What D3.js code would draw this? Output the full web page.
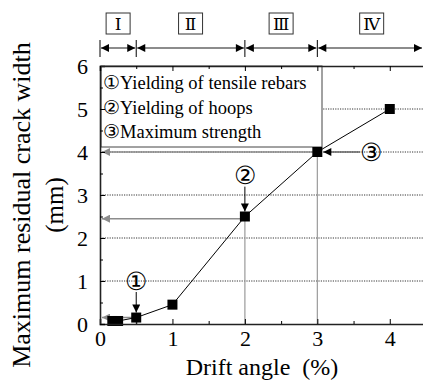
<!DOCTYPE html>
<html>
<head>
<meta charset="utf-8">
<script src="https://cdn.jsdelivr.net/npm/d3@7"></script>
<style>
body { margin: 0; background: #fff; }
</style>
</head>
<body>
<div id="chart"></div>
<script>
// data
var drift = [0.17, 0.25, 0.5, 1, 2, 3, 4];
var crack = [0.07, 0.07, 0.15, 0.45, 2.5, 4, 5];
var xTicks = [0, 1, 2, 3, 4];
var yTicks = [0, 1, 2, 3, 4, 5, 6];
var gridY = [1, 2, 3, 4, 5];
var stageBounds = [0, 0.5, 2, 3, 4.5];
var stageLabels = ['\u2160', '\u2161', '\u2162', '\u2163'];
var legendItems = ['\u2460Yielding of tensile rebars', '\u2461Yielding of hoops', '\u2462Maximum strength'];
var eventX = [0.5, 2, 3];
var eventY = [0.15, 2.45, 4];
var eventMarks = ['\u2460', '\u2461', '\u2462'];
var markX = [0.5, 2, 3.74];
var markY = [1, 3.45, 4];

var serif = '"Liberation Serif", "Times New Roman", Times, "DejaVu Serif", serif';

var svg = d3.select('#chart')
            .append('svg')
            .attr('width', 423)
            .attr('height', 380);

var x = d3.scaleLinear().domain([0, 4.5]).range([100, 426]);
var y = d3.scaleLinear().domain([0, 6]).range([324, 66]);

var defs = svg.append('defs');
function arrowHead(id, color) {
  defs.append('marker')
      .attr('id', id)
      .attr('viewBox', '0 0 10 10')
      .attr('refX', 10).attr('refY', 5)
      .attr('markerWidth', 9).attr('markerHeight', 8)
      .attr('markerUnits', 'userSpaceOnUse')
      .attr('orient', 'auto-start-reverse')
      .append('path')
      .attr('d', 'M0,0L10,5L0,10Z')
      .attr('fill', color);
}
arrowHead('headBlack', '#000');
arrowHead('headGray', '#8c8c8c');

// dotted grid lines
svg.selectAll('.grid').data(gridY).enter()
   .append('line')
   .attr('x1', x(0)).attr('x2', 423)
   .attr('y1', function(d){ return y(d); })
   .attr('y2', function(d){ return y(d); })
   .attr('stroke', '#000').attr('stroke-width', 0.8)
   .attr('stroke-dasharray', '1.2,1.2');

// grey reference lines (down to x axis, left to y axis)
for (var i = 0; i < eventX.length; i++) {
  svg.append('line')
     .attr('x1', x(eventX[i])).attr('x2', x(eventX[i]))
     .attr('y1', y(eventY[i])).attr('y2', y(0))
     .attr('stroke', '#9a9a9a').attr('stroke-width', 1.2);
  svg.append('line')
     .attr('x1', x(eventX[i])).attr('x2', x(0) + 2)
     .attr('y1', y(eventY[i])).attr('y2', y(eventY[i]))
     .attr('stroke', '#8c8c8c').attr('stroke-width', 1.5)
     .attr('marker-end', 'url(#headGray)');
}

// legend box
var lg = svg.append('g');
lg.append('rect')
  .attr('x', 101).attr('y', 66)
  .attr('width', 221).attr('height', 81)
  .attr('fill', '#fff').attr('stroke', '#444').attr('stroke-width', 1);
lg.selectAll('text').data(legendItems).enter()
  .append('text')
  .attr('x', 103)
  .attr('y', function(d, i){ return 89 + i * 24.5; })
  .style('font-size', '18.5px')
  .text(function(d){ return d; });

// data line + markers
var line = d3.line()
             .x(function(d){ return x(d[0]); })
             .y(function(d){ return y(d[1]); });
var pts = d3.zip(drift, crack);
svg.append('path')
   .datum(pts)
   .attr('d', line)
   .attr('fill', 'none').attr('stroke', '#000').attr('stroke-width', 1);
svg.selectAll('.pt').data(pts).enter()
   .append('rect')
   .attr('x', function(d){ return x(d[0]) - 5; })
   .attr('y', function(d){ return y(d[1]) - 5; })
   .attr('width', 10).attr('height', 10)
   .attr('fill', '#000');

// axes
var axB = svg.append('g').attr('transform', 'translate(0,' + y(0) + ')');
axB.call(d3.axisBottom(x).tickValues(xTicks).tickSize(-5).tickPadding(6).tickFormat(d3.format('d')));
axB.append('g').call(d3.axisBottom(x).tickValues([0.5, 1.5, 2.5, 3.5]).tickSize(-3).tickFormat(''));
var axL = svg.append('g').attr('transform', 'translate(' + x(0) + ',0)');
axL.call(d3.axisLeft(y).tickValues(yTicks).tickSize(-5).tickPadding(12).tickFormat(d3.format('d')));
axL.append('g').call(d3.axisLeft(y).tickValues([0.5, 1.5, 2.5, 3.5, 4.5, 5.5]).tickSize(-3).tickFormat(''));
var axT = svg.append('g').attr('transform', 'translate(0,' + y(6) + ')');
axT.call(d3.axisTop(x).tickValues(xTicks).tickSize(-5).tickFormat(''));
axT.append('g').call(d3.axisTop(x).tickValues([0.5, 1.5, 2.5, 3.5]).tickSize(-3).tickFormat(''));

svg.selectAll('.domain').attr('stroke', '#222').attr('stroke-width', 1.6);
svg.selectAll('g g .domain').attr('stroke', 'none');
svg.selectAll('.tick line').attr('stroke', '#000');
svg.selectAll('.tick text').style('font-size', '22px');

// event marks and arrows
for (var i = 0; i < eventMarks.length; i++) {
  svg.append('text')
     .attr('x', x(markX[i])).attr('y', y(markY[i]))
     .attr('text-anchor', 'middle').attr('dy', '0.35em')
     .style('font-size', '25px')
     .text(eventMarks[i]);
}
svg.append('line')
   .attr('x1', x(0.5)).attr('x2', x(0.5))
   .attr('y1', y(1) + 11).attr('y2', y(0.15) - 5)
   .attr('stroke', '#000').attr('stroke-width', 1)
   .attr('marker-end', 'url(#headBlack)');
svg.append('line')
   .attr('x1', x(2)).attr('x2', x(2))
   .attr('y1', y(3.45) + 11).attr('y2', y(2.5) - 5)
   .attr('stroke', '#000').attr('stroke-width', 1)
   .attr('marker-end', 'url(#headBlack)');
svg.append('line')
   .attr('x1', x(3.74) - 11).attr('x2', x(3) + 6)
   .attr('y1', y(4)).attr('y2', y(4))
   .attr('stroke', '#666').attr('stroke-width', 1.5)
   .attr('marker-end', 'url(#headBlack)');

// stage arrows on top
var stageY = 48;
svg.selectAll('.sbound').data(stageBounds.slice(0, 4)).enter()
   .append('line')
   .attr('x1', function(d){ return x(d); }).attr('x2', function(d){ return x(d); })
   .attr('y1', 40).attr('y2', 57)
   .attr('stroke', '#000').attr('stroke-width', 1);
for (var i = 0; i < stageLabels.length; i++) {
  var a = x(stageBounds[i]), b = Math.min(x(stageBounds[i + 1]), 423);
  svg.append('line')
     .attr('x1', a + 1).attr('x2', b - 1)
     .attr('y1', stageY).attr('y2', stageY)
     .attr('stroke', '#666').attr('stroke-width', 1.5)
     .attr('marker-start', 'url(#headBlack)')
     .attr('marker-end', 'url(#headBlack)');
  var cx = (x(stageBounds[i]) + x(stageBounds[i + 1])) / 2;
  svg.append('rect')
     .attr('x', cx - 12).attr('y', 13)
     .attr('width', 24).attr('height', 21)
     .attr('fill', '#fff').attr('stroke', '#333').attr('stroke-width', 1);
  svg.append('text')
     .attr('x', cx).attr('y', 24)
     .attr('text-anchor', 'middle').attr('dy', '0.35em')
     .style('font-size', '17px')
     .text(stageLabels[i]);
}

// axis titles
svg.append('text')
   .attr('x', 262).attr('y', 375)
   .attr('text-anchor', 'middle')
   .style('font-size', '24px')
   .text('Drift angle\u00a0\u00a0(%)');
svg.append('text')
   .attr('transform', 'translate(30,205) rotate(-90)')
   .attr('text-anchor', 'middle')
   .style('font-size', '26px')
   .text('Maximum residual crack width');
svg.append('text')
   .attr('transform', 'translate(63,205) rotate(-90)')
   .attr('text-anchor', 'middle')
   .style('font-size', '25px')
   .text('(mm)');

// serif everywhere (axes set sans-serif on their groups)
svg.selectAll('g').attr('font-family', null);
svg.selectAll('text').style('font-family', serif).style('fill', '#000');
</script>
</body>
</html>
